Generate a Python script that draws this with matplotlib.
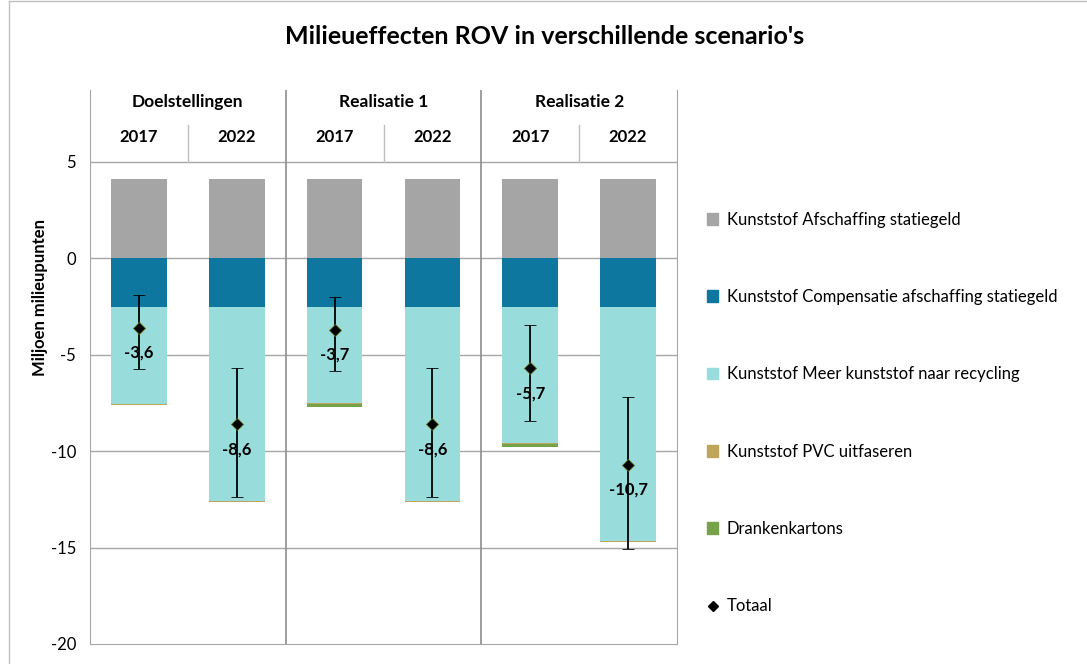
"""Milieueffecten ROV: stacked bars per scenario/year with totals and ranges."""

import matplotlib
matplotlib.use("Agg")
import matplotlib.pyplot as plt
from matplotlib.lines import Line2D
from matplotlib.patches import Patch
import numpy as np

plt.rcParams["font.family"] = ["Lato", "DejaVu Sans"]
plt.rcParams["axes.unicode_minus"] = False

groups = ["Doelstellingen", "Realisatie 1", "Realisatie 2"]
years = ["2017", "2022", "2017", "2022", "2017", "2022"]

series_names = [
    "Kunststof Afschaffing statiegeld",
    "Kunststof Compensatie afschaffing statiegeld",
    "Kunststof Meer kunststof naar recycling",
    "Kunststof PVC uitfaseren",
    "Drankenkartons",
]
afschaffing = [4.1, 4.1, 4.1, 4.1, 4.1, 4.1]
compensatie = [-2.5, -2.5, -2.5, -2.5, -2.5, -2.5]
recycling = [-5.05, -10.1, -5.0, -10.1, -7.1, -12.15]
pvc = [-0.05, -0.05, -0.05, -0.05, -0.05, -0.05]
drankenkartons = [0.0, 0.0, -0.15, 0.0, -0.12, 0.0]
totaal = [-3.6, -8.6, -3.7, -8.6, -5.7, -10.7]
range_low = [-5.75, -12.4, -5.85, -12.4, -8.45, -15.05]
range_high = [-1.9, -5.7, -2.0, -5.7, -3.45, -7.2]

colors = ["#a5a5a5", "#0e77a0", "#99dcdc", "#bfa55a", "#77a14a"]

fig = plt.figure(figsize=(10.87, 6.64), dpi=100)
ax = fig.add_axes([90 / 1087, 20 / 664, 587 / 1087, 554 / 664])

x = np.arange(len(years))
w = 0.57
y_top = 8.73

# positive part
ax.bar(x, afschaffing, w, color=colors[0], zorder=2)
# negative parts stacked downward
bottom = np.zeros(len(x))
for vals, c in zip([compensatie, recycling, pvc, drankenkartons], colors[1:]):
    vals = np.asarray(vals)
    ax.bar(x, vals, w, bottom=bottom, color=c, zorder=2)
    bottom = bottom + vals

tot = np.asarray(totaal)
yerr = [tot - np.asarray(range_low), np.asarray(range_high) - tot]
ax.errorbar(x, tot, yerr=yerr, fmt="D", color="black", ms=6, mec="#5a6b1a",
            mew=0.6, elinewidth=1.3, capsize=4, capthick=1.3, zorder=4)
for xi, t in zip(x, totaal):
    ax.annotate(f"{t:.1f}".replace(".", ","), (xi, t), xytext=(0, -18),
                textcoords="offset points", ha="center", va="center",
                fontsize=12, fontweight="bold", zorder=5)

ax.set_xlim(-0.5, len(x) - 0.5)
ax.set_ylim(-20, y_top)
ax.set_yticks([5, 0, -5, -10, -15, -20])
ax.tick_params(axis="y", length=0, pad=10, labelsize=12)
ax.set_xticks([])
for yv in [5, 0, -5, -10, -15]:
    ax.axhline(yv, color="#a6a6a6", lw=1, zorder=1)
ax.spines["top"].set_visible(False)
for s in ["left", "right", "bottom"]:
    ax.spines[s].set_color("#a6a6a6")

# header table
for xs in [1.5, 3.5]:
    ax.axvline(xs, color="#8c8c8c", lw=1.2, zorder=1)
for xs in [0.5, 2.5, 4.5]:
    ax.plot([xs, xs], [5, 6.92], color="#bfbfbf", lw=1, zorder=1)
for gi, g in enumerate(groups):
    ax.text(2 * gi + 0.5, 8.11, g, ha="center", va="center", fontsize=12.5,
            fontweight="bold")
for xi, yr in zip(x, years):
    ax.text(xi, 6.3, yr, ha="center", va="center", fontsize=12,
            fontweight="bold")

fig.text(545 / 1087, 1 - 37 / 664, "Milieueffecten ROV in verschillende scenario's",
         ha="center", va="center", fontsize=18, fontweight="bold")
fig.text(40 / 1087, 1 - 298 / 664, "Miljoen milieupunten", rotation=90,
         ha="center", va="center", fontsize=12, fontweight="bold")

handles = [Patch(color=c) for c in colors]
handles.append(Line2D([], [], marker="D", color="black", ls="none", ms=5))
fig.legend(handles, series_names + ["Totaal"], loc="upper left",
           bbox_to_anchor=(700 / 1087, 1 - 205 / 664), frameon=False,
           fontsize=12, handlelength=0.7, handleheight=0.7, handletextpad=0.5,
           labelspacing=3.68, borderaxespad=0)

# outer chart border
fig.add_artist(Line2D([9 / 1087, 9 / 1087], [0, 1 - 1 / 664],
                      transform=fig.transFigure, color="#bfbfbf", lw=1))
fig.add_artist(Line2D([9 / 1087, 1], [1 - 1 / 664, 1 - 1 / 664],
                      transform=fig.transFigure, color="#bfbfbf", lw=1))

fig.savefig("out.png", dpi=100)
